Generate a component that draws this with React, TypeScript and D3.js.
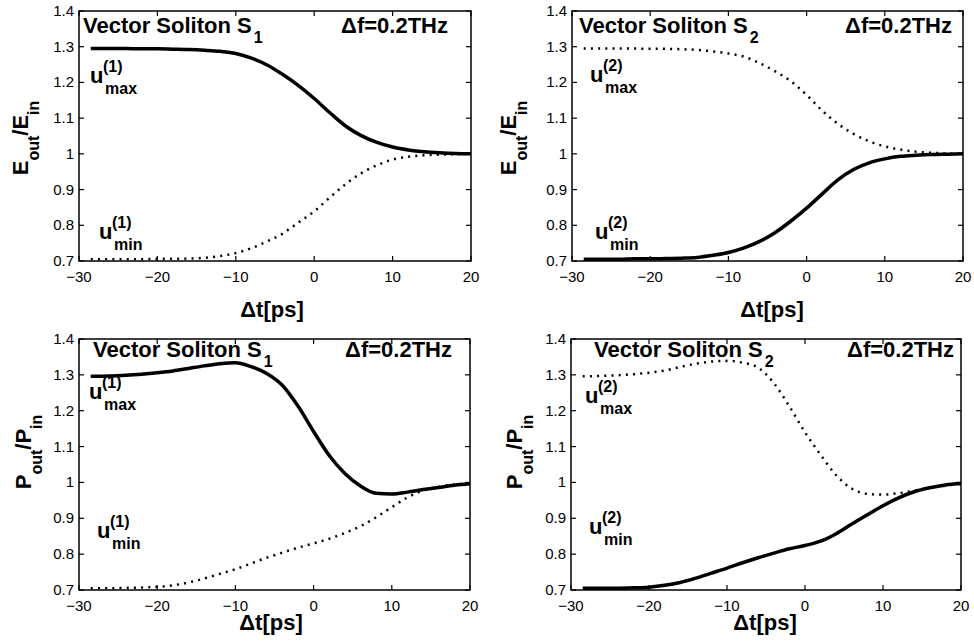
import React from 'react';
import * as d3 from 'd3';

// ---------- data ----------
const DT = [-28.5, -26, -24, -22, -20, -18, -16, -14, -12, -10, -8, -6, -4, -2, 0, 2, 4, 6, 8, 10, 12, 14, 16, 18, 20];
const X_TICKS = [-30, -20, -10, 0, 10, 20];
const Y_TICKS = [0.7, 0.8, 0.9, 1.0, 1.1, 1.2, 1.3, 1.4];

// Energy, vector soliton S1
const E1_UMAX = [1.295, 1.295, 1.295, 1.294, 1.294, 1.293, 1.292, 1.290, 1.287, 1.281, 1.268, 1.249, 1.222, 1.191, 1.155, 1.115, 1.078, 1.051, 1.032, 1.019, 1.011, 1.006, 1.003, 1.001, 1.000];
const E1_UMIN = [0.705, 0.705, 0.705, 0.705, 0.706, 0.706, 0.707, 0.709, 0.714, 0.722, 0.736, 0.755, 0.777, 0.808, 0.839, 0.878, 0.915, 0.946, 0.968, 0.984, 0.992, 0.996, 0.998, 0.999, 1.000];
// Energy, vector soliton S2
const E2_UMAX = [1.295, 1.295, 1.295, 1.295, 1.294, 1.294, 1.293, 1.291, 1.287, 1.281, 1.272, 1.254, 1.231, 1.203, 1.165, 1.121, 1.084, 1.056, 1.035, 1.021, 1.012, 1.006, 1.003, 1.001, 1.000];
const E2_UMIN = [0.705, 0.705, 0.705, 0.706, 0.706, 0.707, 0.708, 0.710, 0.716, 0.724, 0.737, 0.755, 0.780, 0.812, 0.848, 0.888, 0.927, 0.956, 0.975, 0.986, 0.993, 0.996, 0.998, 0.999, 1.000];
// Peak power, vector soliton S1
const P1_UMAX = [1.296, 1.297, 1.299, 1.302, 1.306, 1.311, 1.318, 1.325, 1.331, 1.334, 1.323, 1.304, 1.271, 1.213, 1.142, 1.075, 1.025, 0.990, 0.970, 0.968, 0.973, 0.980, 0.986, 0.992, 0.996];
const P1_UMIN = [0.705, 0.705, 0.706, 0.707, 0.709, 0.713, 0.721, 0.732, 0.745, 0.758, 0.774, 0.790, 0.804, 0.818, 0.830, 0.843, 0.859, 0.878, 0.903, 0.931, 0.958, 0.977, 0.988, 0.994, 0.997];
// Peak power, vector soliton S2
const P2_UMAX = [1.296, 1.297, 1.299, 1.302, 1.306, 1.312, 1.322, 1.331, 1.337, 1.339, 1.334, 1.320, 1.277, 1.212, 1.140, 1.077, 1.020, 0.983, 0.968, 0.966, 0.970, 0.977, 0.985, 0.991, 0.996];
const P2_UMIN = [0.705, 0.705, 0.705, 0.706, 0.708, 0.713, 0.721, 0.733, 0.747, 0.761, 0.776, 0.790, 0.803, 0.815, 0.824, 0.836, 0.857, 0.884, 0.910, 0.935, 0.957, 0.974, 0.985, 0.993, 0.997];

// ---------- layout ----------
const W = 974;
const H = 643;
const FONT = "'Liberation Sans', Arial, Helvetica, sans-serif";

type PanelCfg = {
  box: [number, number, number, number];
  upper: number[];
  lower: number[];
  upperSolid: boolean;
  q: string;
  s: string;
  title: [number, number];
  df: [number, number];
  umax: [number, number];
  umin: [number, number];
  ylab: [number, number];
  xlab: [number, number];
};

const PANELS: PanelCfg[] = [
  { box: [79, 471, 11, 261], upper: E1_UMAX, lower: E1_UMIN, upperSolid: true, q: 'E', s: '1',
    title: [83, 33], df: [448, 33], umax: [90, 83], umin: [99, 239], ylab: [28, 138], xlab: [272, 317] },
  { box: [572, 963, 11, 261], upper: E2_UMAX, lower: E2_UMIN, upperSolid: false, q: 'E', s: '2',
    title: [579, 33], df: [952, 33], umax: [590, 82], umin: [595, 239], ylab: [516, 138], xlab: [772, 317] },
  { box: [79, 470, 339, 590], upper: P1_UMAX, lower: P1_UMIN, upperSolid: true, q: 'P', s: '1',
    title: [93, 357], df: [452, 357], umax: [89, 399], umin: [97, 538], ylab: [31, 452], xlab: [271, 630] },
  { box: [571, 961, 339, 590], upper: P2_UMAX, lower: P2_UMIN, upperSolid: false, q: 'P', s: '2',
    title: [594, 357], df: [954, 357], umax: [585, 403], umin: [589, 534], ylab: [522, 452], xlab: [765, 630] },
];

const fmtX = (v: number) => (v < 0 ? '\u2212' + Math.abs(v) : String(v));
const fmtY = (v: number) => String(+v.toFixed(1));

function ULabel({ pos, s, sub }: { pos: [number, number]; s: string; sub: string }) {
  const [ux, uy] = pos;
  return (
    <g fontFamily={FONT} fontWeight="bold" fill="#000">
      <text x={ux} y={uy} fontSize={22}>u</text>
      <text x={ux + 13} y={uy - 11} fontSize={16}>({s})</text>
      <text x={ux + 15} y={uy + 11} fontSize={16}>{sub}</text>
    </g>
  );
}

function Panel({ p }: { p: PanelCfg }) {
  const [l, r, t, b] = p.box;
  const x = d3.scaleLinear().domain([-30, 20]).range([l, r]);
  const y = d3.scaleLinear().domain([0.7, 1.4]).range([b, t]);
  const line = d3
    .line<number>()
    .x((_, i) => x(DT[i]))
    .y((d) => y(d))
    .curve(d3.curveMonotoneX);
  const solid = p.upperSolid ? p.upper : p.lower;
  const dotted = p.upperSolid ? p.lower : p.upper;
  const TL = 5;
  return (
    <g>
      {/* curves */}
      <path d={line(dotted) || ''} fill="none" stroke="#000" strokeWidth={2.5} strokeDasharray="2 5.2" />
      <path d={line(solid) || ''} fill="none" stroke="#000" strokeWidth={3.5} strokeLinejoin="round" />
      {/* box */}
      <rect x={l} y={t} width={r - l} height={b - t} fill="none" stroke="#000" strokeWidth={1.5} />
      {/* ticks */}
      {X_TICKS.map((v) => (
        <g key={'x' + v}>
          <line x1={x(v)} x2={x(v)} y1={b} y2={b - TL} stroke="#000" strokeWidth={1.2} />
          <line x1={x(v)} x2={x(v)} y1={t} y2={t + TL} stroke="#000" strokeWidth={1.2} />
          <text x={x(v)} y={b + 21} fontSize={15} fontFamily={FONT} textAnchor="middle">{fmtX(v)}</text>
        </g>
      ))}
      {Y_TICKS.map((v) => (
        <g key={'y' + v}>
          <line x1={l} x2={l + TL} y1={y(v)} y2={y(v)} stroke="#000" strokeWidth={1.2} />
          <line x1={r} x2={r - TL} y1={y(v)} y2={y(v)} stroke="#000" strokeWidth={1.2} />
          <text x={l - 5} y={y(v) + 5} fontSize={15} fontFamily={FONT} textAnchor="end">{fmtY(v)}</text>
        </g>
      ))}
      {/* titles */}
      <text x={p.title[0]} y={p.title[1]} fontSize={22} fontWeight="bold" fontFamily={FONT}>
        Vector Soliton S<tspan dx={2} dy={10} fontSize={16}>{p.s}</tspan>
      </text>
      <text x={p.df[0]} y={p.df[1]} fontSize={22} fontWeight="bold" fontFamily={FONT} textAnchor="end">
        {'\u0394f=0.2THz'}
      </text>
      <ULabel pos={p.umax} s={p.s} sub="max" />
      <ULabel pos={p.umin} s={p.s} sub="min" />
      {/* axis labels */}
      <text
        transform={`translate(${p.ylab[0]},${p.ylab[1]}) rotate(-90)`}
        fontSize={22}
        fontWeight="bold"
        fontFamily={FONT}
        textAnchor="middle"
      >
        {p.q}
        <tspan dy={11} fontSize={16}>out</tspan>
        <tspan dy={-11}>/{p.q}</tspan>
        <tspan dy={11} fontSize={16}>in</tspan>
      </text>
      <text x={p.xlab[0]} y={p.xlab[1]} fontSize={22} fontWeight="bold" fontFamily={FONT} textAnchor="middle">
        {'\u0394t[ps]'}
      </text>
    </g>
  );
}

export default function App() {
  return (
    <svg
      width={W}
      height={H}
      viewBox={`0 0 ${W} ${H}`}
      style={{ position: 'absolute', left: 0, top: 0, background: '#fff' }}
    >
      <rect x={0} y={0} width={W} height={H} fill="#fff" />
      {PANELS.map((p, i) => (
        <Panel key={i} p={p} />
      ))}
    </svg>
  );
}
